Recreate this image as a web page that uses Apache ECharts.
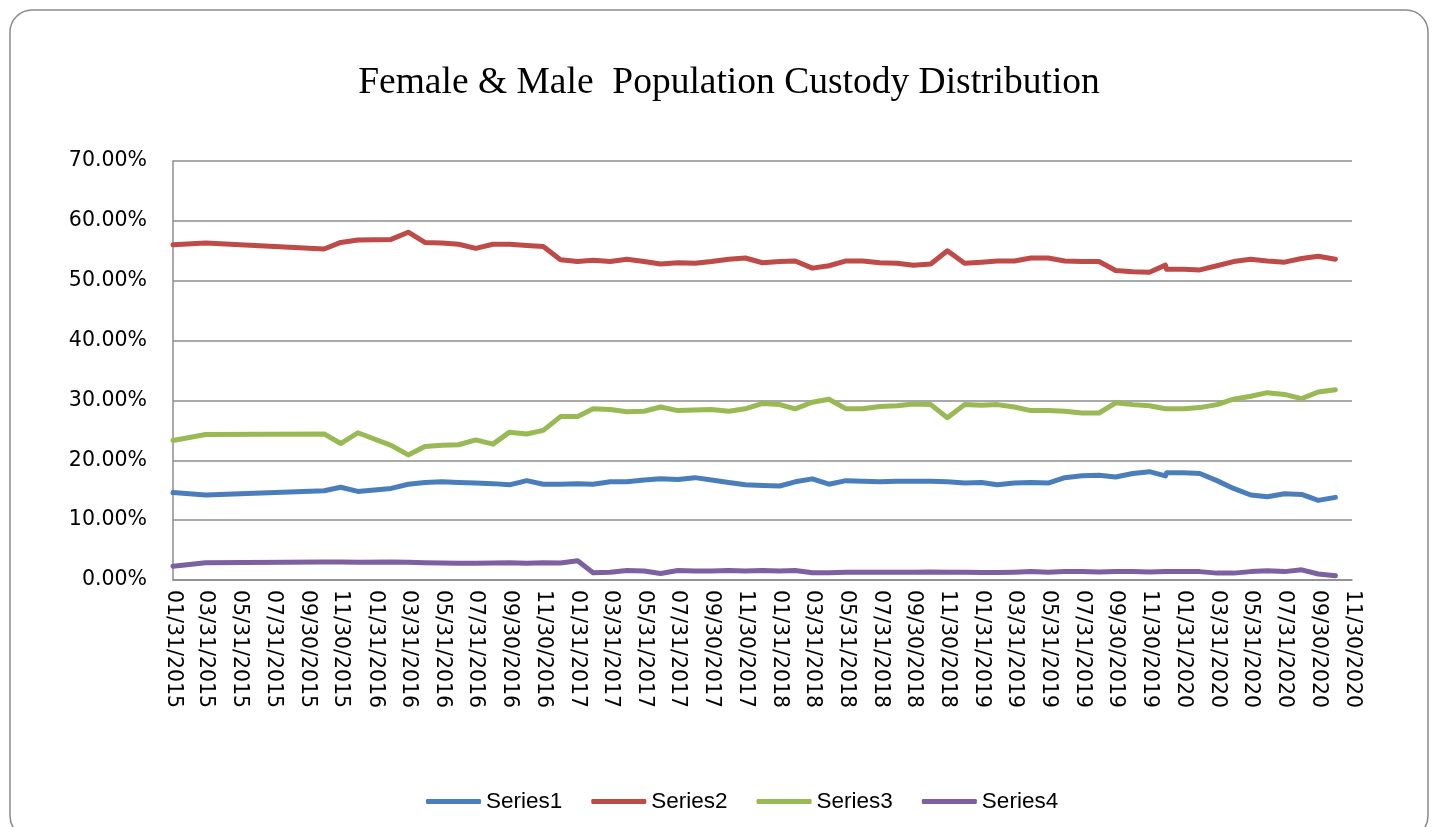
<!DOCTYPE html>
<html>
<head>
<meta charset="utf-8">
<script src="https://cdn.jsdelivr.net/npm/echarts@6/dist/echarts.min.js"></script>
<style>
html,body{margin:0;padding:0;background:#fff;}
#chart{width:1440px;height:827px;}
</style>
</head>
<body>
<div id="chart"></div>
<script>
const dates = ['2015-01-31','2015-03-31','2015-10-31','2015-11-30','2015-12-31',
'2016-02-29','2016-03-31','2016-04-30','2016-05-31','2016-06-30','2016-07-31','2016-08-31','2016-09-30','2016-10-31','2016-11-30','2016-12-31',
'2017-01-31','2017-02-28','2017-03-31','2017-04-30','2017-05-31','2017-06-30','2017-07-31','2017-08-31','2017-09-30','2017-10-31','2017-11-30','2017-12-31',
'2018-01-31','2018-02-28','2018-03-31','2018-04-30','2018-05-31','2018-06-30','2018-07-31','2018-08-31','2018-09-30','2018-10-31','2018-11-30','2018-12-31',
'2019-01-31','2019-02-28','2019-03-31','2019-04-30','2019-05-31','2019-06-30','2019-07-31','2019-08-31','2019-09-30','2019-10-31','2019-11-30','2019-12-29','2019-12-31',
'2020-01-31','2020-02-29','2020-03-31','2020-04-30','2020-05-31','2020-06-30','2020-07-31','2020-08-31','2020-09-30','2020-10-31'];

const series1 = [14.6,14.2,14.9,15.5,14.8,
15.3,16.0,16.3,16.4,16.3,16.2,16.1,15.9,16.6,16.0,16.0,
16.1,16.0,16.4,16.4,16.7,16.9,16.8,17.1,16.7,16.3,15.9,15.8,
15.7,16.4,16.9,16.0,16.6,16.5,16.4,16.5,16.5,16.5,16.4,16.2,
16.3,15.9,16.2,16.3,16.2,17.1,17.4,17.5,17.2,17.8,18.1,17.4,17.9,
17.9,17.8,16.6,15.3,14.2,13.9,14.4,14.3,13.3,13.8];

const series2 = [56.0,56.3,55.3,56.4,56.8,
56.9,58.1,56.4,56.3,56.1,55.4,56.1,56.1,55.9,55.7,53.5,
53.2,53.4,53.2,53.6,53.2,52.8,53.0,52.9,53.2,53.6,53.8,53.0,
53.2,53.3,52.1,52.5,53.3,53.3,53.0,52.9,52.6,52.8,55.0,52.9,
53.1,53.3,53.3,53.8,53.8,53.3,53.2,53.2,51.7,51.5,51.4,52.6,51.9,
51.9,51.8,52.5,53.2,53.6,53.3,53.1,53.7,54.1,53.6];

const series3 = [23.3,24.3,24.4,22.8,24.6,
22.5,20.9,22.3,22.5,22.6,23.4,22.7,24.7,24.4,25.0,27.3,
27.3,28.6,28.5,28.1,28.2,28.9,28.3,28.4,28.5,28.2,28.6,29.5,
29.3,28.6,29.7,30.2,28.6,28.6,29.0,29.1,29.4,29.3,27.1,29.3,
29.2,29.3,28.9,28.3,28.3,28.2,27.9,27.9,29.6,29.3,29.1,28.6,28.5,
28.6,28.8,29.3,30.2,30.7,31.3,31.0,30.3,31.4,31.8];

const series4 = [2.3,2.9,3.0,3.0,2.95,
3.0,2.95,2.9,2.85,2.8,2.8,2.85,2.9,2.8,2.9,2.85,
3.2,1.2,1.3,1.6,1.5,1.1,1.6,1.5,1.5,1.6,1.5,1.6,
1.5,1.6,1.2,1.2,1.3,1.3,1.3,1.3,1.3,1.35,1.3,1.3,
1.25,1.25,1.3,1.4,1.3,1.4,1.4,1.35,1.4,1.4,1.35,1.4,1.4,
1.4,1.4,1.15,1.15,1.4,1.55,1.4,1.7,1.0,0.7];

const seriesNames = ['Series1','Series2','Series3','Series4'];
const seriesColors = ['#4A7EBB','#BE4B48','#98B954','#7D60A0'];

const tickLabels = ['01/31/2015','03/31/2015','05/31/2015','07/31/2015','09/30/2015','11/30/2015',
'01/31/2016','03/31/2016','05/31/2016','07/31/2016','09/30/2016','11/30/2016',
'01/31/2017','03/31/2017','05/31/2017','07/31/2017','09/30/2017','11/30/2017',
'01/31/2018','03/31/2018','05/31/2018','07/31/2018','09/30/2018','11/30/2018',
'01/31/2019','03/31/2019','05/31/2019','07/31/2019','09/30/2019','11/30/2019',
'01/31/2020','03/31/2020','05/31/2020','07/31/2020','09/30/2020','11/30/2020'];

const yTicks = [0,10,20,30,40,50,60,70];
const titleText = 'Female & Male  Population Custody Distribution';

function isoToTs(s){ const p=s.split('-'); return Date.UTC(+p[0], +p[1]-1, +p[2]); }
function mdyToTs(s){ const p=s.split('/'); return Date.UTC(+p[2], +p[0]-1, +p[1]); }
function pad(n){ return (n<10?'0':'')+n; }
function fmt(v){ const d=new Date(v); return pad(d.getUTCMonth()+1)+'/'+pad(d.getUTCDate())+'/'+d.getUTCFullYear(); }

const tickTs = tickLabels.map(mdyToTs);
const allVals = [series1,series2,series3,series4];

const chart = echarts.init(document.getElementById('chart'), null, {renderer:'canvas'});
const gridColor = '#8C8C8C';
chart.setOption({
  animation:false,
  backgroundColor:'#fff',
  title:{
    text:titleText,
    left:724, top:59, textAlign:'center',
    textStyle:{fontFamily:'Liberation Serif', fontSize:37.5, fontWeight:'normal', color:'#000'}
  },
  graphic:[{
    type:'rect', z:-10, silent:true,
    shape:{x:10, y:10, width:1418, height:828, r:22},
    style:{fill:'none', stroke:'#8A8A8A', lineWidth:1.5}
  }],
  legend:{
    data:seriesNames,
    left:421, top:785,
    icon:'roundRect', itemWidth:55, itemHeight:5, itemGap:29,
    textStyle:{fontFamily:'Liberation Sans', fontSize:22.5, color:'#000'}
  },
  grid:{left:173, right:88, top:161, bottom:247, containLabel:false},
  xAxis:{
    type:'value',
    min:tickTs[0], max:tickTs[tickTs.length-1],
    axisLine:{show:true, onZero:false, lineStyle:{color:gridColor, width:1.5}},
    axisTick:{show:false},
    splitLine:{show:false},
    axisLabel:{
      customValues:tickTs,
      rotate:-90, margin:10,
      fontFamily:'DejaVu Sans', fontSize:20.5, color:'#000',
      showMinLabel:true, showMaxLabel:true, hideOverlap:false,
      formatter:function(v){ return fmt(v); }
    }
  },
  yAxis:{
    type:'value', min:yTicks[0], max:yTicks[yTicks.length-1], interval:10,
    axisLine:{show:true, lineStyle:{color:gridColor, width:1.5}},
    axisTick:{show:false},
    splitLine:{show:true, lineStyle:{color:gridColor, width:1.5}},
    axisLabel:{
      margin:26, fontFamily:'DejaVu Sans', fontSize:20.5, color:'#000',
      formatter:function(v){ return v.toFixed(2)+'%'; }
    }
  },
  series:seriesNames.map(function(n,i){
    return {
      name:n, type:'line', showSymbol:false, symbol:'none',
      color:seriesColors[i],
      lineStyle:{width:5, color:seriesColors[i], join:'round', cap:'round'},
      data:dates.map(function(d,j){ return [isoToTs(d), allVals[i][j]]; })
    };
  })
});
</script>
</body>
</html>
